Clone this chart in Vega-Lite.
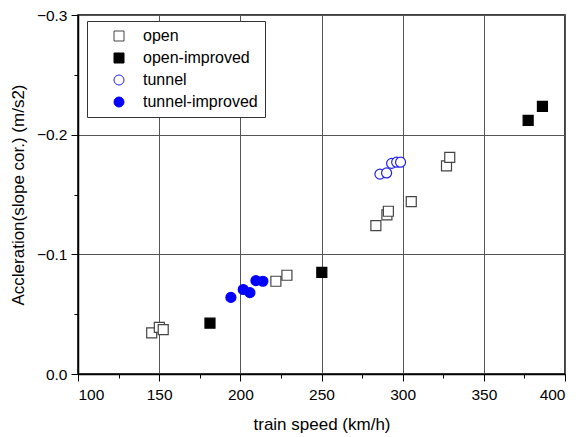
{
  "$schema": "https://vega.github.io/schema/vega-lite/v6.json",
  "width": 487,
  "height": 359,
  "autosize": {"type": "none"},
  "padding": {"left": 78, "top": 15, "right": 13, "bottom": 63},
  "background": "white",
  "config": {
    "font": "Liberation Sans",
    "view": {"stroke": "black", "strokeWidth": 1.5},
    "axis": {
      "labelFont": "Liberation Sans",
      "titleFont": "Liberation Sans",
      "labelFontSize": 15.5,
      "titleFontSize": 17,
      "titleFontWeight": "normal",
      "labelColor": "black",
      "titleColor": "black",
      "domainColor": "black",
      "domainWidth": 1.5,
      "tickColor": "black",
      "gridColor": "#555",
      "gridWidth": 1
    },
    "legend": {
      "orient": "none",
      "legendX": 9,
      "legendY": 6,
      "strokeColor": "#333",
      "padding": 7,
      "labelFont": "Liberation Sans",
      "labelFontSize": 16,
      "labelColor": "black",
      "symbolOffset": 17,
      "labelOffset": 16,
      "rowPadding": 6,
      "symbolStrokeWidth": 1,
      "fillColor": "white"
    }
  },
  "data": {
    "values": [
      {"speed": 145.4, "acc": -0.0344, "series": "open"},
      {"speed": 150.1, "acc": -0.039, "series": "open"},
      {"speed": 152.5, "acc": -0.037, "series": "open"},
      {"speed": 221.9, "acc": -0.0775, "series": "open"},
      {"speed": 228.7, "acc": -0.0825, "series": "open"},
      {"speed": 283.5, "acc": -0.124, "series": "open"},
      {"speed": 290.3, "acc": -0.133, "series": "open"},
      {"speed": 291.2, "acc": -0.136, "series": "open"},
      {"speed": 305.3, "acc": -0.144, "series": "open"},
      {"speed": 327.0, "acc": -0.174, "series": "open"},
      {"speed": 329.0, "acc": -0.181, "series": "open"},
      {"speed": 181.3, "acc": -0.0425, "series": "open-improved"},
      {"speed": 250.2, "acc": -0.085, "series": "open-improved"},
      {"speed": 377.3, "acc": -0.212, "series": "open-improved"},
      {"speed": 386.1, "acc": -0.2236, "series": "open-improved"},
      {"speed": 286.0, "acc": -0.167, "series": "tunnel"},
      {"speed": 290.1, "acc": -0.168, "series": "tunnel"},
      {"speed": 293.2, "acc": -0.176, "series": "tunnel"},
      {"speed": 296.3, "acc": -0.177, "series": "tunnel"},
      {"speed": 298.7, "acc": -0.177, "series": "tunnel"},
      {"speed": 194.2, "acc": -0.064, "series": "tunnel-improved"},
      {"speed": 201.8, "acc": -0.0706, "series": "tunnel-improved"},
      {"speed": 205.9, "acc": -0.068, "series": "tunnel-improved"},
      {"speed": 209.6, "acc": -0.078, "series": "tunnel-improved"},
      {"speed": 213.9, "acc": -0.0775, "series": "tunnel-improved"}
    ]
  },
  "mark": {"type": "point", "size": 100, "strokeWidth": 1.2, "opacity": 1},
  "encoding": {
    "x": {
      "field": "speed",
      "type": "quantitative",
      "scale": {"domain": [100, 400], "nice": false, "zero": false},
      "axis": {
        "title": "train speed (km/h)",
        "values": [100, 125, 150, 175, 200, 225, 250, 275, 300, 325, 350, 375, 400],
        "labelExpr": "datum.value % 50 == 0 ? datum.label : ''",
        "tickSize": {"condition": {"test": "datum.value % 50 == 0", "value": 7}, "value": 4},
        "gridOpacity": {"condition": {"test": "datum.value % 50 == 0", "value": 1}, "value": 0},
        "labelPadding": 6,
        "titlePadding": 14
      }
    },
    "y": {
      "field": "acc",
      "type": "quantitative",
      "scale": {"domain": [0, -0.3], "nice": false, "zero": false},
      "axis": {
        "title": "Accleration(slope cor.) (m/s2)",
        "values": [0, -0.05, -0.1, -0.15, -0.2, -0.25, -0.3],
        "format": ".1f",
        "labelExpr": "abs(datum.value * 10 - round(datum.value * 10)) < 0.01 ? datum.label : ''",
        "tickSize": {"condition": {"test": "abs(datum.value * 10 - round(datum.value * 10)) < 0.01", "value": 7}, "value": 4},
        "gridOpacity": {"condition": {"test": "abs(datum.value * 10 - round(datum.value * 10)) < 0.01", "value": 1}, "value": 0},
        "labelPadding": 4,
        "titlePadding": 9
      }
    },
    "shape": {
      "field": "series",
      "type": "nominal",
      "title": null,
      "scale": {"domain": ["open", "open-improved", "tunnel", "tunnel-improved"], "range": ["square", "square", "circle", "circle"]}
    },
    "stroke": {
      "field": "series",
      "type": "nominal",
      "title": null,
      "scale": {"domain": ["open", "open-improved", "tunnel", "tunnel-improved"], "range": ["#444444", "black", "#2222ee", "#0000ff"]}
    },
    "fill": {
      "field": "series",
      "type": "nominal",
      "title": null,
      "scale": {"domain": ["open", "open-improved", "tunnel", "tunnel-improved"], "range": ["white", "black", "white", "#0000ff"]}
    }
  }
}
